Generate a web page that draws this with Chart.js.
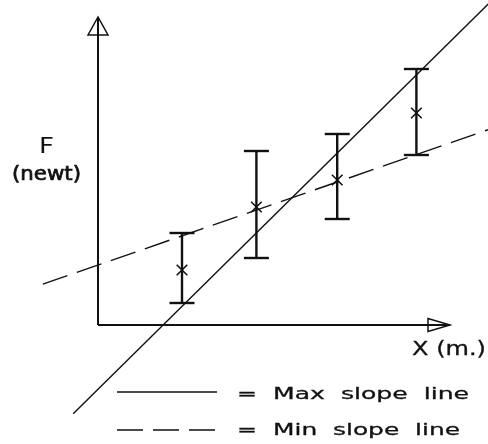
<!DOCTYPE html>
<html>
<head>
<meta charset="utf-8">
<title>Max / min slope lines</title>
<script src="https://cdn.jsdelivr.net/npm/chart.js@4/dist/chart.umd.min.js"></script>
<style>
    body { margin: 0; background: #fff; }
    #wrap { width: 488px; height: 444px; position: relative; }
</style>
</head>
<body>
<div id="wrap"><canvas id="slopeChart"></canvas></div>
<script>
// Measurements (x in m, F in newt)
const xValues = [1.05, 1.98, 2.99, 3.98];
const fValues = [1.375, 2.95, 3.625, 5.3];
const fHigh = [2.3, 4.35, 4.775, 6.4];
const fLow = [0.55, 1.675, 2.65, 4.25];

// Fitted lines (end points)
const maxLineX = [-0.31, 4.9];
const maxLineY = [-2.22, 8.07];
const minLineX = [-0.69, 4.9];
const minLineY = [1.02, 4.9];

// Axis extents and visible window
const axisXEnd = 4.4;
const axisYEnd = 7.7;
const xRange = [-1.225, 4.875];
const yRange = [-2.975, 8.125];

const INK = '#111';
const DASH = [26, 10];

const toPoints = (xs, ys) => xs.map((x, i) => ({ x: x, y: ys[i] }));

// one dataset, segments split by null gaps
const errorBarPoints = [];
xValues.forEach((x, i) => {
    errorBarPoints.push({ x: x, y: fLow[i] });
    errorBarPoints.push({ x: x, y: fHigh[i] });
    errorBarPoints.push({ x: x, y: null });
});

// squeeze / stretch text to a measured width, a light stroke gives the plotter weight
function fitText(ctx, text, left, baseline, width, weight) {
    const w = ctx.measureText(text).width;
    ctx.save();
    ctx.translate(left, baseline);
    ctx.scale(width / w, 1);
    ctx.textAlign = 'left';
    ctx.textBaseline = 'alphabetic';
    ctx.fillText(text, 0, 0);
    if (weight) {
        ctx.lineWidth = weight;
        ctx.strokeText(text, 0, 0);
    }
    ctx.restore();
}

const sketchOverlay = {
    id: 'sketchOverlay',
    afterDatasetsDraw(chart) {
        const { ctx } = chart;
        const sx = chart.scales.x;
        const sy = chart.scales.y;
        const ox = sx.getPixelForValue(0);
        const oy = sy.getPixelForValue(0);
        const yTop = sy.getPixelForValue(axisYEnd);
        const xEnd = sx.getPixelForValue(axisXEnd);

        ctx.save();
        ctx.strokeStyle = INK;
        ctx.fillStyle = INK;
        ctx.lineWidth = 1.5;
        ctx.lineJoin = 'miter';

        // Arrow heads
        ctx.beginPath();
        ctx.moveTo(ox, yTop);
        ctx.lineTo(ox - 10, yTop + 18);
        ctx.lineTo(ox + 10, yTop + 18);
        ctx.closePath();
        ctx.stroke();

        ctx.beginPath();
        ctx.moveTo(xEnd, oy);
        ctx.lineTo(xEnd - 22, oy - 6.5);
        ctx.lineTo(xEnd - 22, oy + 6.5);
        ctx.closePath();
        ctx.stroke();

        // Axis titles
        ctx.font = '22px "DejaVu Sans"';
        fitText(ctx, 'F', 39, 153, 15, 0);
        ctx.font = '19px "DejaVu Sans"';
        fitText(ctx, '(newt)', 12, 180, 69, 0.7);
        fitText(ctx, 'X (m.)', 412, 355, 74, 0.3);

        // Legend
        ctx.lineWidth = 1.5;
        ctx.beginPath();
        ctx.moveTo(117, 392);
        ctx.lineTo(217, 392);
        ctx.stroke();
        ctx.setLineDash(DASH);
        ctx.beginPath();
        ctx.moveTo(117, 430);
        ctx.lineTo(217, 430);
        ctx.stroke();
        ctx.setLineDash([]);

        ctx.font = '16.5px "DejaVu Sans"';
        fitText(ctx, '=', 237, 399, 20, 0.3);
        fitText(ctx, 'Max  slope  line', 273, 399, 196, 0.3);
        fitText(ctx, '=', 237, 435, 20, 0.3);
        fitText(ctx, 'Min  slope  line', 273, 435, 187, 0.3);
        ctx.restore();
    }
};

new Chart(document.getElementById('slopeChart'), {
    type: 'scatter',
    data: {
        datasets: [
            {
                label: 'F axis',
                data: [{ x: 0, y: 0 }, { x: 0, y: axisYEnd }],
                showLine: true,
                borderColor: INK,
                borderWidth: 2,
                pointRadius: 0
            },
            {
                label: 'X axis',
                data: [{ x: 0, y: 0 }, { x: axisXEnd, y: 0 }],
                showLine: true,
                borderColor: INK,
                borderWidth: 2,
                pointRadius: 0
            },
            {
                label: 'Max slope line',
                data: toPoints(maxLineX, maxLineY),
                showLine: true,
                borderColor: INK,
                borderWidth: 1.4,
                pointRadius: 0
            },
            {
                label: 'Min slope line',
                data: toPoints(minLineX, minLineY),
                showLine: true,
                borderColor: INK,
                borderWidth: 1.4,
                borderDash: DASH,
                pointRadius: 0
            },
            {
                label: 'Error bars',
                data: errorBarPoints,
                showLine: true,
                spanGaps: false,
                borderColor: INK,
                borderWidth: 2.4,
                pointStyle: 'line',
                pointRadius: 12.5,
                pointBorderWidth: 2.4,
                pointBorderColor: INK
            },
            {
                label: 'Measured F',
                data: toPoints(xValues, fValues),
                pointStyle: 'crossRot',
                pointRadius: 7.5,
                pointBorderWidth: 1.6,
                pointBorderColor: INK,
                backgroundColor: INK
            }
        ]
    },
    options: {
        responsive: true,
        maintainAspectRatio: false,
        animation: false,
        events: [],
        layout: { padding: 0, autoPadding: false },
        plugins: {
            legend: { display: false },
            tooltip: { enabled: false }
        },
        scales: {
            x: { type: 'linear', min: xRange[0], max: xRange[1], display: false },
            y: { type: 'linear', min: yRange[0], max: yRange[1], display: false }
        }
    },
    plugins: [sketchOverlay]
});
</script>
</body>
</html>
